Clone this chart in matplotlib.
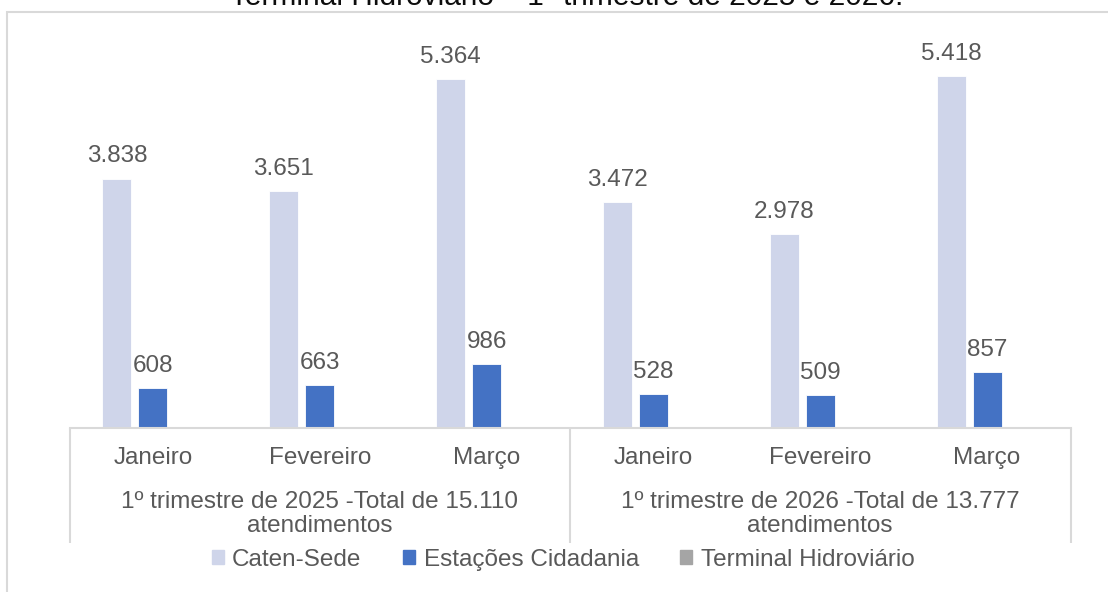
import matplotlib
matplotlib.use("Agg")
import matplotlib.pyplot as plt
from matplotlib.patches import Rectangle
import numpy as np

plt.rcParams['font.family'] = ['Liberation Sans', 'DejaVu Sans']

months = ["Janeiro", "Fevereiro", "Março", "Janeiro", "Fevereiro", "Março"]
groups = ["1º trimestre de 2025 -Total de 15.110\natendimentos",
          "1º trimestre de 2026 -Total de 13.777\natendimentos"]
series_names = ["Caten-Sede", "Estações Cidadania", "Terminal Hidroviário"]
caten_sede = [3838, 3651, 5364, 3472, 2978, 5418]
estacoes_cidadania = [608, 663, 986, 528, 509, 857]
terminal_hidroviario = [0, 0, 0, 0, 0, 0]
title_line = "Terminal Hidroviário – 1º trimestre de 2025 e 2026."

colors = ["#CFD5EA", "#4472C4", "#A5A5A5"]
text_color = "#595959"
line_color = "#D9D9D9"
fs = 17.5

W, H = 1108, 592
fig = plt.figure(figsize=(W / 100, H / 100), dpi=100)

ax_left, ax_right, ax_bottom, ax_top = 69.5, 1070.5, 428, 38
ax = fig.add_axes([ax_left / W, 1 - ax_bottom / H,
                   (ax_right - ax_left) / W, (ax_bottom - ax_top) / H])

x = np.arange(len(months))
width = 0.174
step = 0.216
all_series = [caten_sede, estacoes_cidadania, terminal_hidroviario]
for i, (vals, name, col) in enumerate(zip(all_series, series_names, colors)):
    off = (i - 1) * step
    bars = ax.bar(x + off, vals, width, color=col, label=name,
                  edgecolor="white", linewidth=0.6)
    for b, v in zip(bars, vals):
        if v:
            ax.annotate(f"{v:,}".replace(",", "."),
                        (b.get_x() + b.get_width() / 2, v),
                        xytext=(0, 8), textcoords="offset points",
                        ha="center", va="bottom", fontsize=fs,
                        color=text_color)

ax.set_xlim(-0.5, len(months) - 0.5)
ax.set_ylim(0, 6000)
for s in ["top", "right", "left"]:
    ax.spines[s].set_visible(False)
ax.spines["bottom"].set_color(line_color)
ax.spines["bottom"].set_linewidth(1.5)
ax.set_yticks([])
ax.set_xticks([])

# multi-level category axis
trans = ax.get_xaxis_transform()
box_bottom = -(543 - ax_bottom) / (ax_bottom - ax_top)
for xv in [-0.5, 2.5, 5.5]:
    ax.plot([xv, xv], [0, box_bottom], transform=trans, color=line_color,
            lw=1.5, clip_on=False, solid_capstyle="butt")

month_y = -(458 - ax_bottom) / (ax_bottom - ax_top)
for xi, m in zip(x, months):
    ax.text(xi, month_y, m, transform=trans, ha="center", va="center",
            fontsize=fs, color=text_color)

group_y = -(514 - ax_bottom) / (ax_bottom - ax_top)
for gi, g in enumerate(groups):
    ax.text(gi * 3 + 1, group_y, g, transform=trans, ha="center",
            va="center", fontsize=fs, color=text_color, linespacing=1.15)

# legend
handles = [Rectangle((0, 0), 1, 1, color=c) for c in colors]
fig.legend(handles, series_names, loc="center",
           bbox_to_anchor=(563 / W, 1 - 560 / H), ncol=3, frameon=False,
           fontsize=fs, handlelength=0.5, handleheight=0.5,
           handletextpad=0.35, columnspacing=1.7, labelcolor=text_color)

# outer chart frame
fig.add_artist(Rectangle((7 / W, -0.1), 2.0, 1.1 - 11.7 / H,
                         transform=fig.transFigure, fill=False,
                         edgecolor=line_color, linewidth=1.5))

# title (upper part falls outside the canvas)
fig.text(567 / W, 1 - 5 / H, title_line, ha="center", va="baseline",
         fontsize=21.5, color="#0d0d0d")

fig.savefig("out.png", dpi=100)
